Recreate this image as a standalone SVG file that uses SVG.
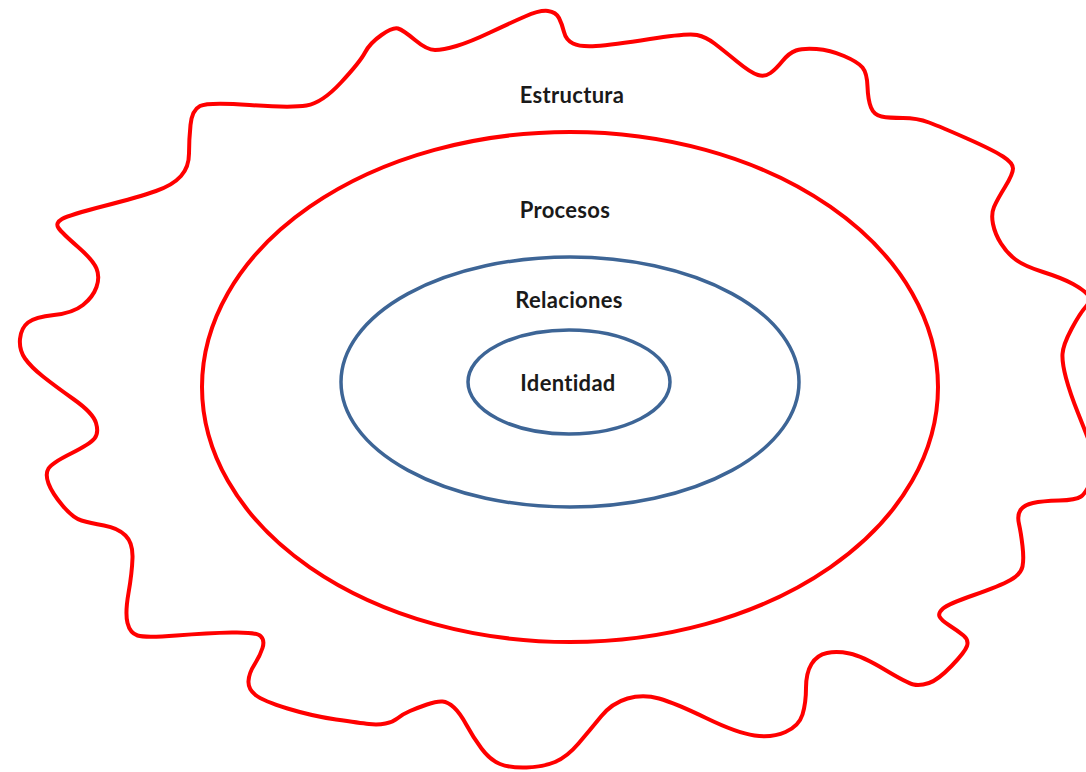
<svg xmlns="http://www.w3.org/2000/svg" width="1086" height="772" viewBox="0 0 1086 772">
<style>
.red{fill:none;stroke:#ff0000;stroke-width:4}
.blue{fill:none;stroke:#3d6596;stroke-width:3.5}
.lbl{font-family:Lato,"Liberation Sans",sans-serif;font-weight:bold;font-size:22px;letter-spacing:0.3px;font-variant-ligatures:none;fill:#1a1a1a;text-anchor:middle}
</style>
<rect width="1086" height="772" fill="#ffffff"/>
<g id="estructura">
<path class="red" d="M525,16.5 Q540,10 548,11 Q556,12 559,18 Q562,24 564,32 Q566,40 573,43.5 Q580,47 596,46 Q612,45 650,39 Q688,33 697,35 Q706,37 714.5,43.5 Q723,50 737,61.5 Q751,73 758,75 Q765,77 770.5,73 Q776,69 782.5,61 Q789,53 796,50.5 Q803,48 816.5,49 Q830,50 844,56 Q858,62 862.5,67.5 Q867,73 867.5,86.5 Q868,100 871,107.5 Q874,115 881.5,116.5 Q889,118 903,118 Q917,118 929,122.5 Q941,127 967,138.5 Q993,150 1003,156.5 Q1013,163 1013,168.5 Q1013,174 1005,187 Q997,200 994,207 Q991,214 993,224 Q995,234 1001,243.5 Q1007,253 1015.5,259.5 Q1024,266 1043,272 Q1062,278 1073,284 Q1084,290 1088,295 Q1092,300 1086,306.5 Q1080,313 1071.5,329 Q1063,345 1062.5,354 Q1062,363 1066,378 Q1070,393 1078,413 Q1086,433 1092,449 Q1098,465 1092,479 Q1086,493 1081,496.5 Q1076,500 1059,500.5 Q1042,501 1033,503 Q1024,505 1020.5,510 Q1017,515 1019,524 Q1021,533 1022.5,546 Q1024,559 1022.5,566.5 Q1021,574 1010.5,580 Q1000,586 974,595 Q948,604 943,608.5 Q938,613 939.5,616.5 Q941,620 949.5,625.5 Q958,631 963.5,635.5 Q969,640 967,646 Q965,652 951.5,666 Q938,680 929,683 Q920,686 913.5,684.5 Q907,683 884.5,669.5 Q862,656 849.5,653.5 Q837,651 827,653 Q817,655 811.5,664 Q806,673 806,688 Q806,703 802.5,714.5 Q799,726 785.5,732 Q772,738 754.5,735.5 Q737,733 706,718 Q675,703 659,698.5 Q643,694 627.5,698.5 Q612,703 601,716.5 Q590,730 578.5,743.5 Q567,757 555,762 Q543,767 526.5,767.5 Q510,768 500,764 Q490,760 481.5,748.5 Q473,737 466.5,725 Q460,713 454,707.5 Q448,702 442.5,701.5 Q437,701 427,704.5 Q417,708 410,711 Q403,714 398,718 Q393,722 385.5,723.5 Q378,725 369,724 Q360,723 336,719.5 Q312,716 287.5,708.5 Q263,701 255.5,695 Q248,689 248.5,681 Q249,673 254.5,664.5 Q260,656 262.5,648 Q265,640 260.5,636 Q256,632 232,632.5 Q208,633 176.5,635.5 Q145,638 137.5,635.5 Q130,633 127.5,623 Q125,613 128.5,593 Q132,573 132.5,558 Q133,543 125.5,535.5 Q118,528 104,525.5 Q90,523 81.5,520.5 Q73,518 62.5,505.5 Q52,493 48.5,483.5 Q45,474 48.5,468.5 Q52,463 71,453.5 Q90,444 94.5,438.5 Q99,433 96,423 Q93,413 74,399.5 Q55,386 43,376.5 Q31,367 25,358.5 Q19,350 20,339 Q21,328 28,322.5 Q35,317 54,315 Q73,313 83,305 Q93,297 96.5,287 Q100,277 96.5,268.5 Q93,260 77.5,246.5 Q62,233 58.5,228 Q55,223 62,219 Q69,215 104,206 Q139,197 156,191 Q173,185 181,176 Q189,167 189,153.5 Q189,140 190.5,125 Q192,110 200,106 Q208,102 249.5,105 Q291,108 306.5,105.5 Q322,103 341,82.5 Q360,62 365,52.5 Q370,43 381.5,35 Q393,27 398,28.5 Q403,30 415,40 Q427,50 435,50 Q443,50 456.5,46 Q470,42 490,32.5 Q510,23 525,16.5 Z"/>
<text class="lbl" x="572" y="103">Estructura</text>
</g>
<g id="procesos">
<ellipse class="red" cx="570" cy="387" rx="368" ry="255"/>
<text class="lbl" x="565" y="218">Procesos</text>
</g>
<g id="relaciones">
<ellipse class="blue" cx="570" cy="382" rx="229" ry="125"/>
<text class="lbl" x="569" y="308">Relaciones</text>
</g>
<g id="identidad">
<ellipse class="blue" cx="569" cy="382" rx="101" ry="52"/>
<text class="lbl" x="568" y="391">Identidad</text>
</g>
<g id="connectors"/>
</svg>
